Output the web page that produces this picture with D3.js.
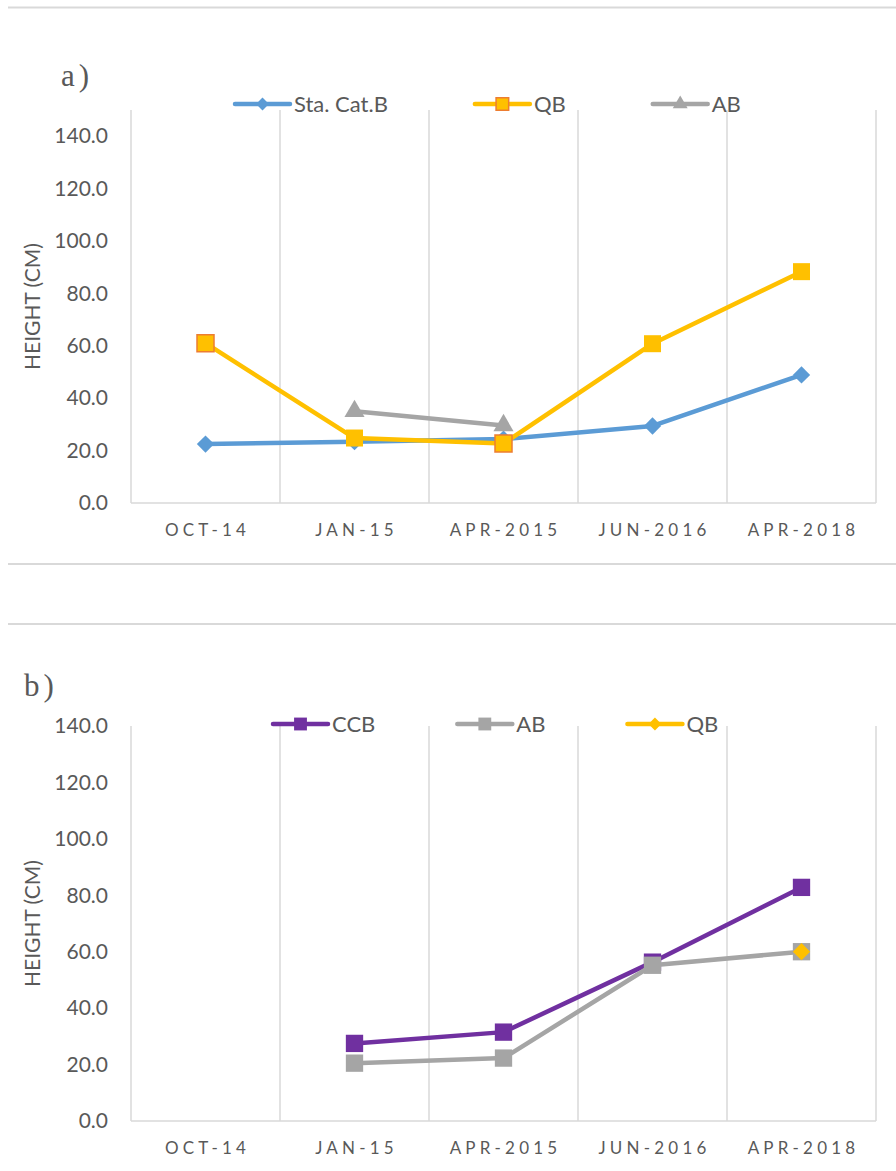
<!DOCTYPE html>
<html>
<head>
<meta charset="utf-8">
<script src="https://cdn.jsdelivr.net/npm/d3@7"></script>
<style>
  body { margin: 0; background: #fff; }
  svg text { font-family: Lato, 'Open Sans', sans-serif; fill: #595959; }
</style>
</head>
<body>
<svg id="chart" width="896" height="1171"></svg>
<script>
// categories shared by both panels
const categories = ['OCT-14', 'JAN-15', 'APR-2015', 'JUN-2016', 'APR-2018'];
const yTicks = [0, 20, 40, 60, 80, 100, 120, 140];

// panel a
const aStaCatB = [22.5, 23.4, 24.4, 29.4, 48.9];
const aQB = [61.0, 24.8, 22.7, 60.8, 88.3];
const aAB = [null, 35.0, 29.6, null, null];

// panel b
const bCCB = [null, 27.5, 31.5, 56.3, 82.8];
const bAB = [null, 20.5, 22.3, 55.2, 60.0];
const bQB = [null, null, null, null, 60.0];

const svg = d3.select('#chart');

// thin separators around the panels
[7.5, 564, 624].forEach(y => {
    svg.append('line')
        .attr('x1', 8).attr('x2', 896)
        .attr('y1', y).attr('y2', y)
        .attr('stroke', '#d9d9d9')
        .attr('stroke-width', 2);
});

function symbolPath(type, size) {
    if (type === 'triangle') return d3.symbol(d3.symbolTriangle, size)();
    // diamonds are squares turned 45 degrees
    return d3.symbol(d3.symbolSquare, size)();
}

function drawPanel(cfg) {
    const g = svg.append('g');

    const x = d3.scaleBand()
        .domain(categories)
        .range([131, 876]);
    const y = d3.scaleLinear()
        .domain([0, cfg.yMax])
        .range([cfg.bottom, cfg.top]);

    // vertical gridlines at category boundaries
    const edges = categories.map(c => x(c)).concat([x.range()[1]]);
    g.selectAll('.grid')
        .data(edges)
        .join('line')
            .attr('class', 'grid')
            .attr('x1', d => d).attr('x2', d => d)
            .attr('y1', cfg.top).attr('y2', cfg.bottom)
            .attr('stroke', '#d9d9d9')
            .attr('stroke-width', 1.5);

    g.append('line')
        .attr('x1', 131).attr('x2', 876)
        .attr('y1', cfg.bottom).attr('y2', cfg.bottom)
        .attr('stroke', '#d9d9d9')
        .attr('stroke-width', 1.5);

    // y axis labels
    const yAxis = d3.axisLeft(y)
        .tickValues(yTicks)
        .tickFormat(d3.format('.1f'))
        .tickSize(0)
        .tickPadding(23);
    g.append('g')
        .attr('transform', 'translate(131,0)')
        .call(yAxis)
        .call(a => a.select('.domain').remove())
        .call(a => a.selectAll('text')
            .attr('font-size', 21)
            .attr('fill', '#595959')
            .attr('font-family', null));

    // x axis labels
    const xAxis = d3.axisBottom(x).tickSize(0).tickPadding(21);
    g.append('g')
        .attr('transform', `translate(0,${cfg.bottom})`)
        .call(xAxis)
        .call(a => a.select('.domain').remove())
        .call(a => a.selectAll('text')
            .attr('font-size', 17)
            .attr('letter-spacing', 4.2)
            .attr('dx', 2)
            .attr('fill', '#595959')
            .attr('font-family', null));

    // axis title
    g.append('text')
        .attr('transform', `translate(40,${(cfg.top + cfg.bottom) / 2}) rotate(-90)`)
        .attr('text-anchor', 'middle')
        .attr('font-size', 21)
        .text('HEIGHT (CM)');

    // panel letter
    g.append('text')
        .attr('x', cfg.letterX)
        .attr('y', cfg.letterY)
        .style('font-family', "'Liberation Serif', 'DejaVu Serif', serif")
        .attr('font-size', 31)
        .attr('letter-spacing', 4)
        .attr('fill', '#404040')
        .text(cfg.letter);

    const cx = c => x(c) + x.bandwidth() / 2;
    const line = d3.line()
        .defined(d => d.v !== null)
        .x(d => cx(d.c))
        .y(d => y(d.v));

    cfg.series.forEach(s => {
        const pts = categories.map((c, i) => ({c: c, v: s.values[i], i: i}));
        g.append('path')
            .datum(pts)
            .attr('fill', 'none')
            .attr('stroke', s.color)
            .attr('stroke-width', 4.5)
            .attr('stroke-linejoin', 'round')
            .attr('d', line);

        g.selectAll(null)
            .data(pts.filter(d => d.v !== null))
            .join('path')
                .attr('d', symbolPath(s.marker, s.size))
                .attr('transform', d => `translate(${cx(d.c)},${y(d.v)})` + (s.marker === 'diamond' ? ' rotate(45)' : ''))
                .attr('fill', s.markerFill || s.color)
                .attr('stroke', d => (s.outlined && s.outlined[d.i]) ? s.outline : 'none')
                .attr('stroke-width', 1.5);
    });

    // legend
    let lx = cfg.legendX;
    cfg.series.forEach(s => {
        const item = g.append('g').attr('transform', `translate(${lx},${cfg.legendY})`);
        item.append('line')
            .attr('x1', 0).attr('x2', 55)
            .attr('stroke', s.color)
            .attr('stroke-width', 4.5)
            .attr('stroke-linecap', 'round');
        item.append('path')
            .attr('d', symbolPath(s.marker, s.size * 0.55))
            .attr('transform', 'translate(27.5,0)' + (s.marker === 'diamond' ? ' rotate(45)' : ''))
            .attr('fill', s.markerFill || s.color)
            .attr('stroke', s.outline || 'none')
            .attr('stroke-width', 1.5);
        const t = item.append('text')
            .attr('x', 59)
            .attr('dy', '0.35em')
            .attr('font-size', 22)
            .text(s.name);
        lx += 59 + t.node().getComputedTextLength() + cfg.legendGap;
    });
}

drawPanel({
    letter: 'a)', letterX: 61, letterY: 86,
    top: 110, bottom: 503, yMax: 150,
    legendX: 235, legendY: 104, legendGap: 87,
    series: [
        {name: 'Sta. Cat.B', values: aStaCatB, color: '#5b9bd5', marker: 'diamond', size: 150},
        {name: 'QB', values: aQB, color: '#ffc000', marker: 'square', size: 289,
            outline: '#ed7d31', outlined: [true, false, true, false, false]},
        {name: 'AB', values: aAB, color: '#a5a5a5', marker: 'triangle', size: 175}
    ]
});

drawPanel({
    letter: 'b)', letterX: 24, letterY: 696,
    top: 726, bottom: 1121, yMax: 140,
    legendX: 273, legendY: 724, legendGap: 82,
    series: [
        {name: 'CCB', values: bCCB, color: '#7030a0', marker: 'square', size: 300},
        {name: 'AB', values: bAB, color: '#a5a5a5', marker: 'square', size: 300},
        {name: 'QB', values: bQB, color: '#ffc000', marker: 'diamond', size: 150}
    ]
});
</script>
</body>
</html>
